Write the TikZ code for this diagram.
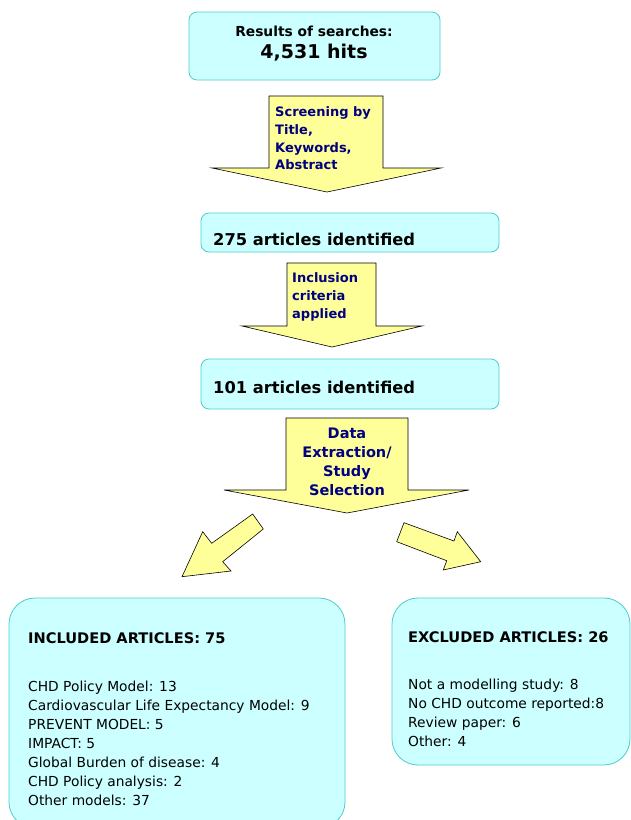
\documentclass[tikz,border=0pt]{standalone}
\usepackage{fontspec}
\setmainfont{DejaVu Sans}
\definecolor{boxfill}{HTML}{CCFFFF}
\definecolor{boxline}{HTML}{4DCCCC}
\definecolor{arrfill}{HTML}{FFFF99}
\definecolor{navy}{HTML}{000080}
\begin{document}
\begin{tikzpicture}[x=1pt,y=-1pt,
  box/.style={draw=boxline, fill=boxfill, line width=0.8pt, rounded corners=8pt, inner sep=0pt},
  bigbox/.style={draw=boxline, fill=boxfill, line width=0.8pt, rounded corners=26pt, inner sep=0pt},
  blockarrow/.style={draw=black, fill=arrfill, line width=0.6pt, line join=miter},
  arrtext/.style={text=navy, font=\bfseries\fontsize{13}{17.6}\selectfont, align=left, inner sep=0pt},
  idtext/.style={font=\bfseries\fontsize{16.3}{18}\selectfont, inner sep=0pt, anchor=west},
  listtext/.style={font=\fontsize{13.8}{19}\selectfont, align=left, inner sep=0pt, anchor=north west},
  headtext/.style={font=\bfseries\fontsize{14.6}{19}\selectfont, inner sep=0pt, anchor=west}]
\useasboundingbox (0,0) rectangle (631,820);
\fill[white] (0,0) rectangle (631,820);
\begin{scope}
\clip (0,0) rectangle (631,820);
% boxes
\node[box, minimum width=251pt, minimum height=68pt] (b1) at (314.5,46) {};
\node[inner sep=0pt, font=\bfseries\fontsize{13.8}{16}\selectfont] (t1a) at (314,31) {Results of searches:};
\node[inner sep=0pt, font=\bfseries\fontsize{19}{22}\selectfont] (t1b) at (314,53) {4,531 hits};
\node[box, minimum width=298pt, minimum height=39pt] (b2) at (350,232.5) {};
\node[idtext] (t2) at (213,239) {275 articles identified};
\node[box, minimum width=298pt, minimum height=50pt] (b3) at (350,384) {};
\node[idtext] (t3) at (213,387) {101 articles identified};
\node[bigbox, minimum width=336pt, minimum height=230pt] (b4) at (177,713) {};
\node[headtext] (h4) at (28,638) {INCLUDED ARTICLES: 75};
\node[listtext] (l4) at (28,680.5) {CHD Policy Model: 13\\Cardiovascular Life Expectancy Model: 9\\PREVENT MODEL: 5\\IMPACT: 5\\Global Burden of disease: 4\\CHD Policy analysis: 2\\Other models: 37};
\node[bigbox, minimum width=238pt, minimum height=167pt] (b5) at (511,681.5) {};
\node[headtext] (h5) at (408,637) {EXCLUDED ARTICLES: 26};
\node[listtext] (l5) at (408,678.5) {Not a modelling study: 8\\No CHD outcome reported:8\\Review paper: 6\\Other: 4};
% block arrows
\draw[blockarrow] (269,96) -- (383,96) -- (383,168) -- (441,168) -- (327,192) -- (212,168) -- (269,168) -- cycle;
\node[arrtext, anchor=north west] (a1) at (275,106.8) {Screening by\\Title,\\Keywords,\\Abstract};
\draw[blockarrow] (287,263) -- (376,263) -- (376,326) -- (422,326) -- (332,347) -- (242,326) -- (287,326) -- cycle;
\node[arrtext, anchor=north west] (a2) at (292,272.8) {Inclusion\\criteria\\applied};
\draw[blockarrow] (286,418) -- (408,418) -- (408,490) -- (469,490) -- (347,513) -- (224,490) -- (286,490) -- cycle;
\node[arrtext, font=\bfseries\fontsize{14.5}{19.2}\selectfont, align=center, anchor=north] (a3) at (347,427.5) {Data\\Extraction/\\Study\\Selection};
\draw[blockarrow] (252.7,514) -- (263.3,529) -- (222.7,561.7) -- (231,571) -- (182,576.7) -- (202.7,531.7) -- (211.7,543.3) -- cycle;
\draw[blockarrow] (404,522.7) -- (396.7,541.7) -- (446.7,560.7) -- (443.3,570) -- (480.7,561.7) -- (457.3,531.7) -- (454,541) -- cycle;
\end{scope}
\end{tikzpicture}
\end{document}
